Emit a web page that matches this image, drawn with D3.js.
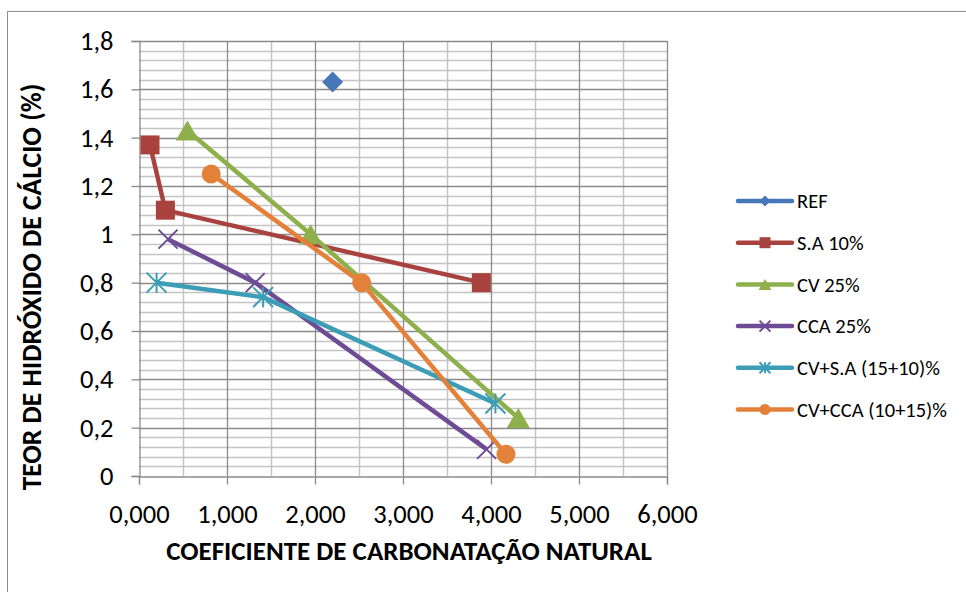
<!DOCTYPE html>
<html><head><meta charset="utf-8">
<script src="https://cdn.jsdelivr.net/npm/d3@7"></script>
<style>body{margin:0;background:#fff}svg{display:block}</style>
</head><body>
<svg id="c" width="966" height="592"></svg>
<script>
const seriesNames = ["REF","S.A 10%","CV 25%","CCA 25%","CV+S.A (15+10)%","CV+CCA (10+15)%"];
const seriesColors = ["#4677B8","#A8423F","#8DB04C","#6E4C95","#3C9DB7","#E3813A"];
const seriesMarkers = ["diamond","square","triangle","x","asterisk","circle"];
const refX = [2.20], refY = [1.63];
const saX = [0.125, 0.30, 3.89], saY = [1.37, 1.10, 0.80];
const cvX = [0.55, 1.95, 4.31], cvY = [1.43, 1.00, 0.24];
const ccaX = [0.33, 1.32, 3.95], ccaY = [0.98, 0.80, 0.11];
const cvsaX = [0.20, 1.41, 4.05], cvsaY = [0.80, 0.74, 0.30];
const cvccaX = [0.82, 2.53, 4.17], cvccaY = [1.25, 0.80, 0.09];
const xTicks = [0,1,2,3,4,5,6];
const xTickLabels = ["0,000","1,000","2,000","3,000","4,000","5,000","6,000"];
const yTicks = [0,0.2,0.4,0.6,0.8,1,1.2,1.4,1.6,1.8];
const yTickLabels = ["0","0,2","0,4","0,6","0,8","1","1,2","1,4","1,6","1,8"];
const xTitle = "COEFICIENTE DE CARBONATAÇÃO NATURAL";
const yTitle = "TEOR DE HIDRÓXIDO DE CÁLCIO (%)";

const allX = [refX, saX, cvX, ccaX, cvsaX, cvccaX];
const allY = [refY, saY, cvY, ccaY, cvsaY, cvccaY];
const series = seriesNames.map((n,i)=>({name:n,color:seriesColors[i],marker:seriesMarkers[i],
  pts: allX[i].map((x,j)=>({x, y: allY[i][j]}))}));

const FONT = "Carlito, Calibri, 'Liberation Sans Narrow', 'Open Sans', sans-serif";
const svg = d3.select("#c");
svg.append("rect").attr("x",7.5).attr("y",11.5).attr("width",970).attr("height",600)
  .attr("fill","none").attr("stroke","#8c8c8c").attr("stroke-width",1);

const L = 139, R = 667, T = 41, B = 476;
const x = d3.scaleLinear().domain([0,6]).range([L,R]);
const y = d3.scaleLinear().domain([0,1.8]).range([B,T]);
const g = svg.append("g");

// minor horizontal grid (0.04)
const minorY = d3.range(0,1.8001,0.04).filter(v=>Math.abs(v/0.2-Math.round(v/0.2))>1e-6);
g.selectAll(".my").data(minorY).join("line")
  .attr("x1",L).attr("x2",R).attr("y1",d=>Math.round(y(d))+0.5).attr("y2",d=>Math.round(y(d))+0.5)
  .attr("stroke","#c4c4c4").attr("stroke-width",1.5);
// minor vertical grid (0.5)
const minorX = d3.range(0.5,6,1);
g.selectAll(".mx").data(minorX).join("line")
  .attr("y1",T).attr("y2",B).attr("x1",d=>Math.round(x(d))+0.5).attr("x2",d=>Math.round(x(d))+0.5)
  .attr("stroke","#c4c4c4").attr("stroke-width",1.5);
// major grid
g.selectAll(".My").data(yTicks.slice(1)).join("line")
  .attr("x1",L).attr("x2",R).attr("y1",d=>Math.round(y(d))+0.5).attr("y2",d=>Math.round(y(d))+0.5)
  .attr("stroke","#8a8a8a").attr("stroke-width",1.3);
g.selectAll(".Mx").data(xTicks.slice(1)).join("line")
  .attr("y1",T).attr("y2",B).attr("x1",d=>Math.round(x(d))+0.5).attr("x2",d=>Math.round(x(d))+0.5)
  .attr("stroke","#8a8a8a").attr("stroke-width",1.3);

// axes
const yAxis = d3.axisLeft(y).tickValues(yTicks).tickSize(8).tickPadding(18)
  .tickFormat((d,i)=>yTickLabels[i]);
const ya = svg.append("g").attr("transform",`translate(${L+0.5},0)`).call(yAxis);
const xAxis = d3.axisBottom(x).tickValues(xTicks).tickSize(8).tickPadding(20)
  .tickFormat((d,i)=>xTickLabels[i]);
const xa = svg.append("g").attr("transform",`translate(0,${B+0.5})`).call(xAxis);
[ya,xa].forEach(a=>{
  a.select(".domain").attr("stroke","#8a8a8a").attr("stroke-width",1.3);
  a.selectAll(".tick line").attr("stroke","#8a8a8a").attr("stroke-width",1.3);
  a.selectAll("text").attr("font-family",FONT).attr("font-size",26.5).attr("fill","#000");
});
xa.selectAll(".tick text").attr("dy","0.71em");

// titles
svg.append("text").attr("x",409).attr("y",560).attr("text-anchor","middle")
  .attr("font-family",FONT).attr("font-weight","bold").attr("font-size",27).text(xTitle);
svg.append("text").attr("transform","translate(41,287) rotate(-90)").attr("text-anchor","middle")
  .attr("font-family",FONT).attr("font-weight","bold").attr("font-size",27.5).text(yTitle);

function marker(sel, type, color, s){
  if(type==="diamond"){
    sel.append("path").attr("d",`M0,${-s/2}L${s/2},0L0,${s/2}L${-s/2},0Z`).attr("fill",color);
  } else if(type==="square"){
    sel.append("rect").attr("x",-s/2).attr("y",-s/2).attr("width",s).attr("height",s).attr("fill",color);
  } else if(type==="triangle"){
    sel.append("path").attr("d",`M0,${-s*0.5}L${s*0.58},${s*0.5}L${-s*0.58},${s*0.5}Z`).attr("fill",color);
  } else if(type==="circle"){
    sel.append("circle").attr("r",s/2).attr("fill",color);
  } else if(type==="x"){
    const h=s/2;
    sel.append("path").attr("d",`M${-h},${-h}L${h},${h}M${-h},${h}L${h},${-h}`).attr("stroke",color).attr("stroke-width",2).attr("fill","none");
  } else if(type==="asterisk"){
    const h=s/2;
    sel.append("path").attr("d",`M${-h},${-h}L${h},${h}M${-h},${h}L${h},${-h}M0,${-h}L0,${h}`).attr("stroke",color).attr("stroke-width",2).attr("fill","none");
  }
}

const line = d3.line().x(d=>x(d.x)).y(d=>y(d.y));
const sg = svg.append("g");
series.forEach(s=>{
  const gs = sg.append("g");
  if(s.pts.length>1) gs.append("path").attr("d",line(s.pts)).attr("fill","none")
    .attr("stroke",s.color).attr("stroke-width",4.5).attr("stroke-linejoin","round");
  s.pts.forEach(p=>{
    const m = gs.append("g").attr("transform",`translate(${x(p.x)},${y(p.y)})`);
    const size = {diamond:21,square:19,triangle:20,circle:19,x:19,asterisk:20}[s.marker];
    marker(m, s.marker, s.color, size);
  });
});

// legend
const lg = svg.append("g");
series.forEach((s,i)=>{
  const yy = 201 + i*41.7;
  const e = lg.append("g").attr("transform",`translate(0,${yy})`);
  e.append("line").attr("x1",738).attr("x2",792).attr("stroke",s.color).attr("stroke-width",4.5).attr("stroke-linecap","round");
  const m = e.append("g").attr("transform","translate(765,0)");
  marker(m, s.marker, s.color, 11);
  e.append("text").attr("x",797).attr("y",0).attr("dy","0.35em")
    .attr("font-family",FONT).attr("font-size",20.5).text(s.name);
});
</script>
</body></html>
